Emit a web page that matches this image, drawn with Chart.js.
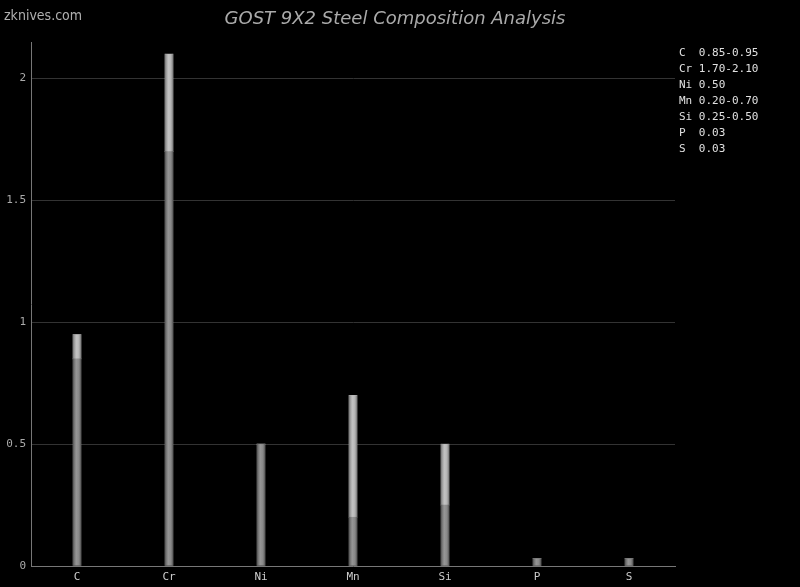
<!DOCTYPE html>
<html>
<head>
<meta charset="utf-8">
<script src="https://cdn.jsdelivr.net/npm/chart.js@4"></script>
<style>
  html, body { margin: 0; padding: 0; background: #000; }
  #wrap { width: 800px; height: 587px; position: relative; }
</style>
</head>
<body>
<div id="wrap"><canvas id="chart" width="800" height="587"></canvas></div>
<script>
const elements = ['C', 'Cr', 'Ni', 'Mn', 'Si', 'P', 'S'];
const minValues = [0.85, 1.70, 0.50, 0.20, 0.25, 0.03, 0.03];
const maxValues = [0.95, 2.10, 0.50, 0.70, 0.50, 0.03, 0.03];
const yTicks = [0, 0.5, 1, 1.5, 2];

const rangeValues = maxValues.map((v, i) => +(v - minValues[i]).toFixed(2));

const legendLines = elements.map((el, i) => {
  const a = minValues[i].toFixed(2), b = maxValues[i].toFixed(2);
  return el.padEnd(3, ' ') + (a === b ? a : a + '-' + b);
});

const mono = '"DejaVu Sans Mono", monospace';

// cylinder-like shading on each bar
const shadePlugin = {
  id: 'shade',
  afterDatasetsDraw(chart) {
    const ctx = chart.ctx;
    chart.data.datasets.forEach((ds, di) => {
      chart.getDatasetMeta(di).data.forEach(bar => {
        const h = bar.base - bar.y;
        if (!h) return;
        const left = bar.x - bar.width / 2;
        const g = ctx.createLinearGradient(left, 0, left + bar.width, 0);
        g.addColorStop(0, 'rgba(0,0,0,0.35)');
        g.addColorStop(0.45, 'rgba(255,255,255,0.18)');
        g.addColorStop(0.6, 'rgba(255,255,255,0.12)');
        g.addColorStop(1, 'rgba(0,0,0,0.35)');
        ctx.save();
        ctx.fillStyle = g;
        ctx.fillRect(left, bar.y, bar.width, h);
        ctx.restore();
      });
    });
  }
};

const textPlugin = {
  id: 'texts',
  afterDraw(chart) {
    const ctx = chart.ctx;
    ctx.save();
    ctx.fillStyle = '#b0b0b0';
    ctx.font = '14px "DejaVu Sans Condensed", "DejaVu Sans", sans-serif';
    ctx.textAlign = 'left';
    ctx.textBaseline = 'alphabetic';
    ctx.fillText('zknives.com', 4, 20);

    ctx.font = 'italic 18px "DejaVu Sans", sans-serif';
    ctx.textAlign = 'center';
    ctx.fillStyle = '#aaa';
    ctx.fillText('GOST 9X2 Steel Composition Analysis', 395, 24);

    ctx.font = '11px ' + mono;
    ctx.textAlign = 'left';
    ctx.fillStyle = '#e0e0e0';
    legendLines.forEach((t, i) => ctx.fillText(t, 679, 56 + i * 16));
    ctx.restore();
  }
};

new Chart(document.getElementById('chart'), {
  type: 'bar',
  data: {
    labels: elements,
    datasets: [
      {
        label: 'min',
        data: minValues,
        backgroundColor: '#7e7e7e',
        barThickness: 8,
        stack: 's'
      },
      {
        label: 'range',
        data: rangeValues,
        backgroundColor: '#b4b4b4',
        barThickness: 8,
        stack: 's'
      }
    ]
  },
  options: {
    responsive: false,
    animation: false,
    events: [],
    layout: { padding: { top: 42, right: 125, left: 0, bottom: 0 } },
    plugins: {
      legend: { display: false },
      tooltip: { enabled: false },
      title: { display: false }
    },
    scales: {
      x: {
        stacked: true,
        grid: { display: false },
        border: { color: '#777', width: 1 },
        ticks: { color: '#ccc', font: { family: mono, size: 11 }, padding: -3 },
        afterFit(scale) { scale.height = 21; }
      },
      y: {
        stacked: true,
        min: 0,
        max: 2.15,
        afterBuildTicks(scale) { scale.ticks = yTicks.map(v => ({ value: v })); },
        grid: { color: '#333', drawTicks: false },
        border: { color: '#777', width: 1 },
        ticks: {
          color: '#aaa',
          font: { family: mono, size: 11 },
          padding: 5,
          callback: v => String(v)
        },
        afterFit(scale) { scale.width = 31; }
      }
    }
  },
  plugins: [shadePlugin, textPlugin]
});
</script>
</body>
</html>
